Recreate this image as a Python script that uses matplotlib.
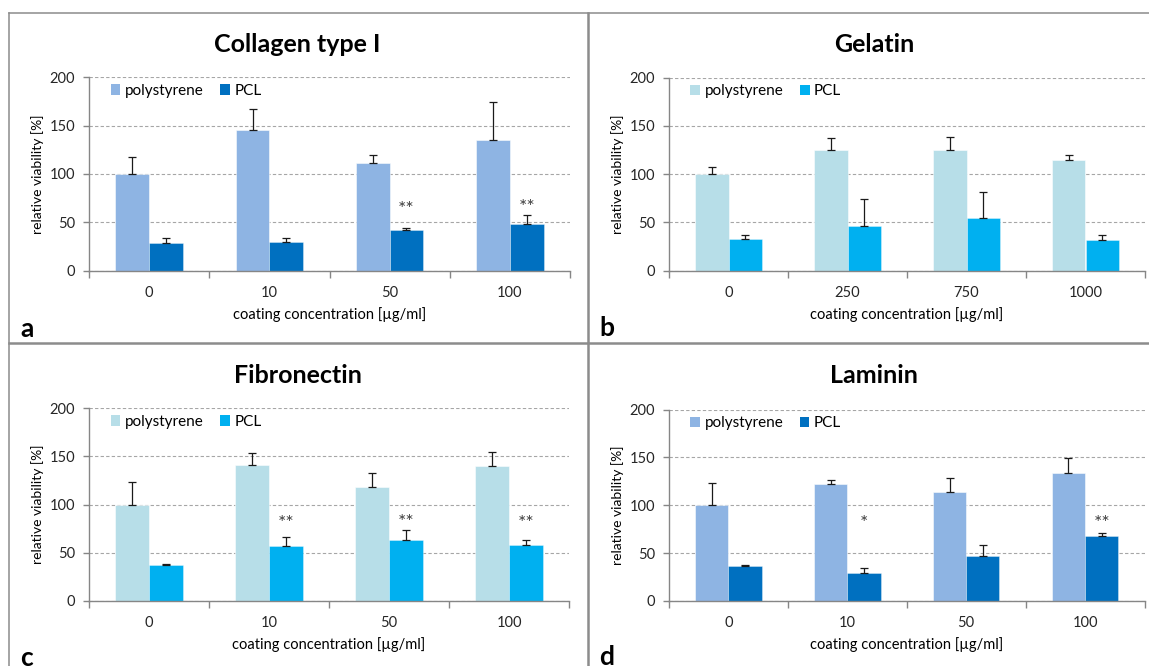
import numpy as np
import matplotlib
matplotlib.use("Agg")
import matplotlib.pyplot as plt
from matplotlib.lines import Line2D
from matplotlib.patches import Patch

plt.rcParams['font.family'] = ['Lato', 'DejaVu Sans']

W, H = 1149, 666

series_labels = ["polystyrene", "PCL"]
x_label = "coating concentration [µg/ml]"
y_label = "relative viability [%]"
y_ticks = [0, 50, 100, 150, 200]

# Collagen type I
collagen_conc = ["0", "10", "50", "100"]
collagen_ps = [100, 145, 111, 135]
collagen_ps_err = [17, 22, 9, 39]
collagen_pcl = [28, 30, 42, 48]
collagen_pcl_err = [6, 3.5, 2, 9]
collagen_sig = ["", "", "**", "**"]
collagen_sig_y = [0, 0, 68, 70]

# Gelatin
gelatin_conc = ["0", "250", "750", "1000"]
gelatin_ps = [100, 125, 125, 115]
gelatin_ps_err = [7, 12.5, 13, 5]
gelatin_pcl = [33, 46, 54, 32]
gelatin_pcl_err = [3.5, 28, 27.5, 5]
gelatin_sig = ["", "", "", ""]
gelatin_sig_y = [0, 0, 0, 0]

# Fibronectin
fibronectin_conc = ["0", "10", "50", "100"]
fibronectin_ps = [100, 141, 118, 140]
fibronectin_ps_err = [23, 12.5, 15, 15]
fibronectin_pcl = [37, 57, 63, 58]
fibronectin_pcl_err = [1, 9, 11, 5]
fibronectin_sig = ["", "**", "**", "**"]
fibronectin_sig_y = [0, 85, 86, 85]

# Laminin
laminin_conc = ["0", "10", "50", "100"]
laminin_ps = [100, 122, 114, 134]
laminin_ps_err = [23, 4.5, 14, 15]
laminin_pcl = [36.5, 29.5, 47, 67.5]
laminin_pcl_err = [1, 5, 12, 4]
laminin_sig = ["", "*", "", "**"]
laminin_sig_y = [0, 86, 0, 86]

BLUE_LIGHT = "#8EB4E3"
BLUE_DARK = "#0070C0"
CYAN_LIGHT = "#B7DEE8"
CYAN_DARK = "#00B0F0"

panels = [
    dict(title="Collagen type I", letter="a", conc=collagen_conc,
         ps=collagen_ps, ps_err=collagen_ps_err, pcl=collagen_pcl,
         pcl_err=collagen_pcl_err, sig=collagen_sig, sig_y=collagen_sig_y,
         colors=(BLUE_LIGHT, BLUE_DARK),
         box=(89, 77.3, 570, 270.5), title_xy=(297.5, 52), ylab_x=38,
         letter_xy=(20, 337)),
    dict(title="Gelatin", letter="b", conc=gelatin_conc,
         ps=gelatin_ps, ps_err=gelatin_ps_err, pcl=gelatin_pcl,
         pcl_err=gelatin_pcl_err, sig=gelatin_sig, sig_y=gelatin_sig_y,
         colors=(CYAN_LIGHT, CYAN_DARK),
         box=(669, 77.7, 1145, 270.5), title_xy=(874, 52), ylab_x=618,
         letter_xy=(599, 336)),
    dict(title="Fibronectin", letter="c", conc=fibronectin_conc,
         ps=fibronectin_ps, ps_err=fibronectin_ps_err, pcl=fibronectin_pcl,
         pcl_err=fibronectin_pcl_err, sig=fibronectin_sig,
         sig_y=fibronectin_sig_y, colors=(CYAN_LIGHT, CYAN_DARK),
         box=(89, 408.3, 569, 600.7), title_xy=(298, 383), ylab_x=38,
         letter_xy=(20, 666)),
    dict(title="Laminin", letter="d", conc=laminin_conc,
         ps=laminin_ps, ps_err=laminin_ps_err, pcl=laminin_pcl,
         pcl_err=laminin_pcl_err, sig=laminin_sig, sig_y=laminin_sig_y,
         colors=(BLUE_LIGHT, BLUE_DARK),
         box=(669, 409.5, 1144.5, 601), title_xy=(874, 383), ylab_x=618,
         letter_xy=(599, 665)),
]

fig = plt.figure(figsize=(W / 100, H / 100), dpi=100)
fig.patch.set_facecolor("white")


def fx(x):
    return x / W


def fy(y):
    return 1 - y / H


AXIS_GRAY = "#868686"
TEXT_COLOR = "#262626"
bar_w = 0.28

for p in panels:
    left, top, right, bottom = p["box"]
    ax = fig.add_axes([fx(left), fy(bottom), (right - left) / W, (bottom - top) / H])
    x = np.arange(len(p["conc"]))
    c_ps, c_pcl = p["colors"]
    ax.bar(x - bar_w / 2, p["ps"], width=bar_w, color=c_ps,
           edgecolor=(1, 1, 1, 0.6), linewidth=0.6, zorder=2)
    ax.bar(x + bar_w / 2, p["pcl"], width=bar_w, color=c_pcl,
           edgecolor=(1, 1, 1, 0.4), linewidth=0.6, zorder=2)
    zeros = np.zeros(len(x))
    ax.errorbar(x - bar_w / 2, p["ps"], yerr=[zeros, p["ps_err"]], fmt="none",
                ecolor="#1a1a1a", elinewidth=0.9, capsize=3, capthick=0.9, zorder=3)
    ax.errorbar(x + bar_w / 2, p["pcl"], yerr=[zeros, p["pcl_err"]], fmt="none",
                ecolor="#1a1a1a", elinewidth=0.9, capsize=3, capthick=0.9, zorder=3)
    # significance marks; the asterisk glyph sits high, so nudge it down
    for xi, s, sy in zip(x, p["sig"], p["sig_y"]):
        if s:
            ax.annotate(s, xy=(xi + bar_w / 2, sy), xytext=(0, -3.5),
                        textcoords="offset points", ha="center", va="center",
                        fontsize=14, color="#404040", zorder=4)

    ax.set_xlim(-0.5, len(x) - 0.5)
    ax.set_ylim(0, 200)
    ax.set_yticks(y_ticks)
    ax.yaxis.grid(True, linestyle=(0, (3, 2)), color="#A6A6A6", linewidth=0.8)
    ax.set_axisbelow(True)
    for side in ("top", "right"):
        ax.spines[side].set_visible(False)
    for side in ("left", "bottom"):
        ax.spines[side].set_color(AXIS_GRAY)
        ax.spines[side].set_linewidth(1.0)
    ax.set_xticks(x)
    ax.set_xticklabels(p["conc"])
    ax.set_xticks(np.arange(len(x) + 1) - 0.5, minor=True)
    ax.tick_params(axis="x", which="major", length=0, pad=11, labelsize=10.5,
                   labelcolor=TEXT_COLOR)
    ax.tick_params(axis="x", which="minor", length=5, color=AXIS_GRAY, width=1.0)
    ax.tick_params(axis="y", length=4, color=AXIS_GRAY, width=1.0, pad=6,
                   labelsize=10.5, labelcolor=TEXT_COLOR)

    handles = [Patch(facecolor=c_ps, edgecolor="none"),
               Patch(facecolor=c_pcl, edgecolor="none")]
    ax.legend(handles, series_labels, loc="upper left",
              bbox_to_anchor=(0.045, 0.965), frameon=False, ncol=2,
              fontsize=11, handlelength=0.62, handleheight=0.7,
              handletextpad=0.3, columnspacing=1.1, borderaxespad=0,
              borderpad=0, labelcolor="black")

    # titles and axis labels
    tx, ty = p["title_xy"]
    fig.text(fx(tx), fy(ty), p["title"], ha="center", va="baseline",
             fontsize=18, fontweight="bold", color="black")
    fig.text(fx(p["ylab_x"]), fy((top + bottom) / 2), y_label, rotation=90,
             ha="center", va="center", fontsize=10, color="black")
    fig.text(fx((left + right) / 2), fy(bottom + 44), x_label, ha="center",
             va="center", fontsize=10.5, color="black")
    lx, ly = p["letter_xy"]
    fig.text(fx(lx), fy(ly), p["letter"], ha="left", va="baseline",
             fontsize=19, fontweight="bold", color="black")

# panel frames
frame_gray = "#8C8C8C"
fig.add_artist(Line2D([fx(8.5), fx(8.5)], [fy(12.7), fy(H)], color=frame_gray, lw=1.1))
fig.add_artist(Line2D([fx(8.5), fx(W)], [fy(12.7), fy(12.7)], color=frame_gray, lw=1.1))
fig.add_artist(Line2D([fx(587.7), fx(587.7)], [fy(12.7), fy(H)], color=frame_gray, lw=1.8))
fig.add_artist(Line2D([fx(8.5), fx(W)], [fy(342.7), fy(342.7)], color=frame_gray, lw=1.8))

fig.savefig("out.png", dpi=100)
